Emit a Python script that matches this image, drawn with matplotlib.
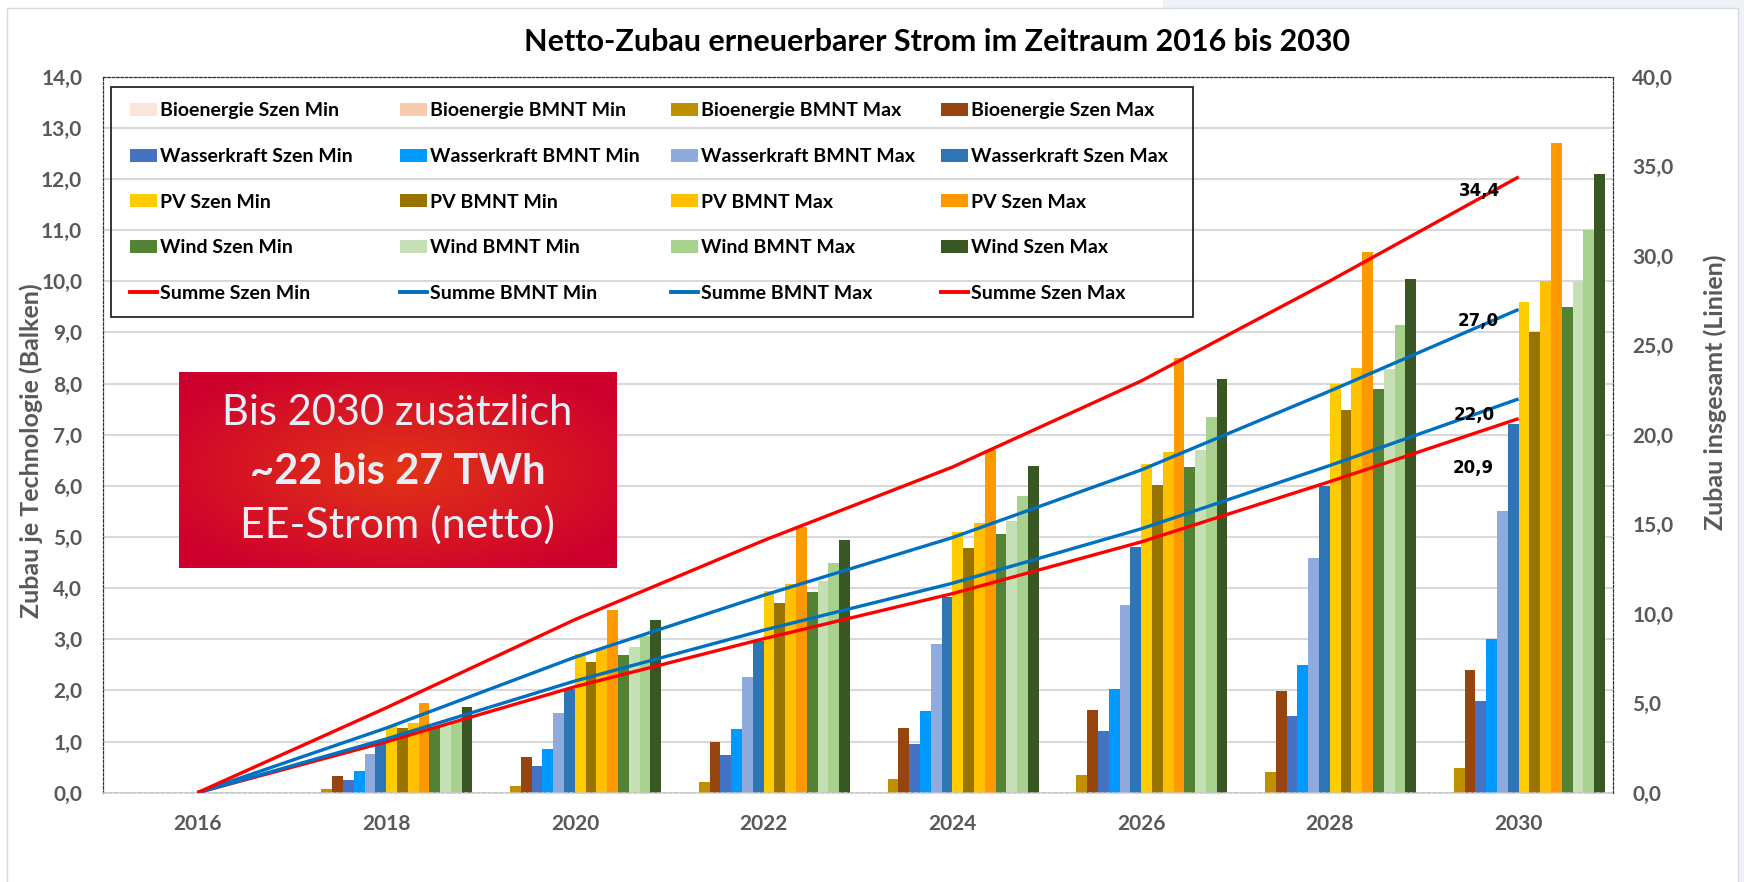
import numpy as np
import matplotlib
matplotlib.use("Agg")
import matplotlib.pyplot as plt
from matplotlib.patches import Patch, Rectangle
from matplotlib.lines import Line2D
from matplotlib.legend import Legend
from matplotlib.ticker import FuncFormatter, MultipleLocator

plt.rcParams['font.family'] = ['Lato', 'DejaVu Sans']

years = ["2016", "2018", "2020", "2022", "2024", "2026", "2028", "2030"]

# bars, TWh per technology (left axis)
bio_szen_min = [0, 0, 0, 0, 0, 0, 0, 0]
bio_bmnt_min = [0, 0, 0, 0, 0, 0, 0, 0]
bio_bmnt_max = [0, 0.07, 0.14, 0.20, 0.27, 0.34, 0.41, 0.48]
bio_szen_max = [0, 0.33, 0.69, 0.99, 1.27, 1.61, 1.98, 2.40]
wk_szen_min = [0, 0.25, 0.52, 0.73, 0.96, 1.21, 1.49, 1.80]
wk_bmnt_min = [0, 0.42, 0.85, 1.24, 1.60, 2.02, 2.50, 3.00]
wk_bmnt_max = [0, 0.76, 1.55, 2.26, 2.90, 3.67, 4.58, 5.50]
wk_szen_max = [0, 0.99, 2.03, 2.96, 3.82, 4.81, 5.99, 7.20]
pv_szen_min = [0, 1.31, 2.71, 3.95, 5.10, 6.43, 7.99, 9.60]
pv_bmnt_min = [0, 1.27, 2.55, 3.71, 4.78, 6.02, 7.49, 9.00]
pv_bmnt_max = [0, 1.37, 2.81, 4.08, 5.28, 6.67, 8.31, 10.00]
pv_szen_max = [0, 1.75, 3.57, 5.19, 6.71, 8.49, 10.57, 12.70]
wind_szen_min = [0, 1.28, 2.69, 3.92, 5.06, 6.37, 7.90, 9.50]
wind_bmnt_min = [0, 1.31, 2.84, 4.13, 5.32, 6.70, 8.29, 10.00]
wind_bmnt_max = [0, 1.41, 3.07, 4.49, 5.80, 7.35, 9.14, 11.00]
wind_szen_max = [0, 1.67, 3.38, 4.95, 6.39, 8.09, 10.05, 12.10]

# lines, total (right axis)
summe_szen_min = [0, 2.84, 5.92, 8.60, 11.12, 14.01, 17.38, 20.9]
summe_bmnt_min = [0, 3.00, 6.24, 9.08, 11.70, 14.74, 18.28, 22.0]
summe_bmnt_max = [0, 3.61, 7.57, 11.03, 14.25, 18.03, 22.44, 27.0]
summe_szen_max = [0, 4.74, 9.67, 14.09, 18.19, 23.00, 28.59, 34.4]

bar_names = ["Bioenergie Szen Min", "Bioenergie BMNT Min", "Bioenergie BMNT Max", "Bioenergie Szen Max",
             "Wasserkraft Szen Min", "Wasserkraft BMNT Min", "Wasserkraft BMNT Max", "Wasserkraft Szen Max",
             "PV Szen Min", "PV BMNT Min", "PV BMNT Max", "PV Szen Max",
             "Wind Szen Min", "Wind BMNT Min", "Wind BMNT Max", "Wind Szen Max"]
bar_values = [bio_szen_min, bio_bmnt_min, bio_bmnt_max, bio_szen_max,
              wk_szen_min, wk_bmnt_min, wk_bmnt_max, wk_szen_max,
              pv_szen_min, pv_bmnt_min, pv_bmnt_max, pv_szen_max,
              wind_szen_min, wind_bmnt_min, wind_bmnt_max, wind_szen_max]
bar_colors = ["#FBE5D6", "#F8CBAD", "#BF9000", "#97450F",
              "#4472C4", "#0099FF", "#8FAADC", "#2E75B6",
              "#FFCC00", "#997300", "#FFC000", "#FF9900",
              "#548235", "#C5E0B4", "#A9D18E", "#385723"]

line_names = ["Summe Szen Min", "Summe BMNT Min", "Summe BMNT Max", "Summe Szen Max"]
line_values = [summe_szen_min, summe_bmnt_min, summe_bmnt_max, summe_szen_max]
line_colors = ["#FF0000", "#0070C0", "#0070C0", "#FF0000"]
label_offsets = [(-45, -49), (-44, -16), (-40, -12), (-39, -14)]

W, H = 1744, 882
fig = plt.figure(figsize=(W / 100, H / 100), dpi=100)
fig.patches.append(Rectangle((1163 / W, 1 - 8 / H), 1, 1, transform=fig.transFigure,
                             facecolor="#EEF2F6", edgecolor="none", zorder=-10))
fig.patches.append(Rectangle((1738 / W, 0), 1, 1, transform=fig.transFigure,
                             facecolor="#EEF2F6", edgecolor="none", zorder=-10))
fig.patches.append(Rectangle((7 / W, -0.1), 1731 / W, 1.1 - 8 / H, transform=fig.transFigure,
                             facecolor="white", edgecolor="#D5DAE0", lw=1, zorder=-9))

ax = fig.add_axes([103 / W, 1 - 792.7 / H, 1510 / W, 716 / H])
ax.patch.set_alpha(0)

x = np.arange(len(years))
n = len(bar_values)
bw = 0.0572
for j, (vals, col) in enumerate(zip(bar_values, bar_colors)):
    ax.bar(x + (j - (n - 1) / 2) * bw, vals, width=bw, color=col, zorder=2)

ax.set_xlim(-0.5, len(years) - 0.5)
ax.set_ylim(0, 14)
ax.yaxis.set_major_locator(MultipleLocator(1))
ax.yaxis.set_major_formatter(FuncFormatter(lambda v, p: f"{v:.1f}".replace(".", ",")))
ax.set_xticks(x)
ax.set_xticklabels(years)
ax.yaxis.grid(True, color="#D9D9D9", lw=1.5)
ax.set_axisbelow(True)
ax.tick_params(axis="y", length=0, pad=15, labelsize=15, labelcolor="#595959")
ax.tick_params(axis="x", length=0, pad=15, labelsize=15, labelcolor="#595959")
for lab in ax.get_xticklabels() + ax.get_yticklabels():
    lab.set_fontweight("bold")
for s in ["top", "left", "right"]:
    ax.spines[s].set_linestyle((0, (2, 1.5)))
    ax.spines[s].set_linewidth(0.9)
    ax.spines[s].set_color("#303030")
ax.spines["bottom"].set_linestyle((0, (2, 1.5)))
ax.spines["bottom"].set_color("#C8C8C8")
ax.spines["bottom"].set_linewidth(1.2)

ax2 = ax.twinx()
ax2.set_ylim(0, 40)
ax2.yaxis.set_major_locator(MultipleLocator(5))
ax2.yaxis.set_major_formatter(FuncFormatter(lambda v, p: f"{v:.1f}".replace(".", ",")))
ax2.tick_params(axis="y", length=0, pad=14, labelsize=15, labelcolor="#595959")
for lab in ax2.get_yticklabels():
    lab.set_fontweight("bold")
for s in ax2.spines.values():
    s.set_visible(False)

for vals, col, off in zip(line_values, line_colors, label_offsets):
    ax2.plot(x, vals, color=col, lw=2.4, zorder=3, solid_capstyle="butt")
    ax2.annotate(f"{vals[-1]:.1f}".replace(".", ","), (x[-1], vals[-1]), xytext=off,
                 textcoords="offset pixels", ha="center", va="center",
                 fontsize=12, fontweight="bold", family="DejaVu Sans", color="black")

# legend: 4 equally spaced columns inside one frame
handles = [Patch(facecolor=c) for c in bar_colors] + [Line2D([], [], color=c, lw=2.8) for c in line_colors]
labels = bar_names + line_names
for c in range(4):
    idx = [r * 4 + c for r in range(5)]
    leg = Legend(ax2, [handles[i] for i in idx], [labels[i] for i in idx], loc="upper left",
                 bbox_to_anchor=(0.0179 + 0.179 * c, 0.964), borderaxespad=0, borderpad=0,
                 frameon=False, prop={"weight": "bold", "size": 14}, labelspacing=1.47,
                 handlelength=1.39, handleheight=0.62, handletextpad=0.15)
    ax2.add_artist(leg)
ax2.add_patch(Rectangle((0.0051, 0.6644), 0.7168, 0.986 - 0.6644, transform=ax2.transAxes,
                        fill=False, edgecolor="#262626", lw=1.3, clip_on=False, zorder=4))

fig.text(937 / W, 1 - 42 / H, "Netto-Zubau erneuerbarer Strom im Zeitraum 2016 bis 2030",
         ha="center", va="center", fontsize=22, fontweight="bold", color="black")
fig.text(31 / W, 1 - 283 / H, "Zubau je Technologie (Balken)", rotation=90,
         ha="center", va="top", fontsize=18, fontweight="bold", color="#595959")
fig.text(1715 / W, 1 - 254 / H, "Zubau insgesamt (Linien)", rotation=90,
         ha="center", va="top", fontsize=18, fontweight="bold", color="#595959")

# red callout box with radial gradient
bx = fig.add_axes([179 / W, 1 - 568 / H, 437 / W, 196 / H], zorder=5)
gy, gx = np.mgrid[-1:1:200j, -1:1:440j]
r = np.clip(np.sqrt(gx ** 2 + gy ** 2) / 1.2, 0, 1)[..., None]
inner = np.array([226, 52, 22]) / 255
outer = np.array([206, 0, 45]) / 255
bx.imshow(inner * (1 - r) + outer * r, aspect="auto", extent=(0, 1, 0, 1))
bx.axis("off")
bx.text(0.5, 0.79, "Bis 2030 zusätzlich", ha="center", va="center", fontsize=30, color="#E8EEF5")
bx.text(0.5, 0.49, "~22 bis 27 TWh", ha="center", va="center", fontsize=30, fontweight="bold", color="#E8EEF5")
bx.text(0.5, 0.22, "EE-Strom (netto)", ha="center", va="center", fontsize=31, color="#E8EEF5")

fig.savefig("out.png", dpi=100)
